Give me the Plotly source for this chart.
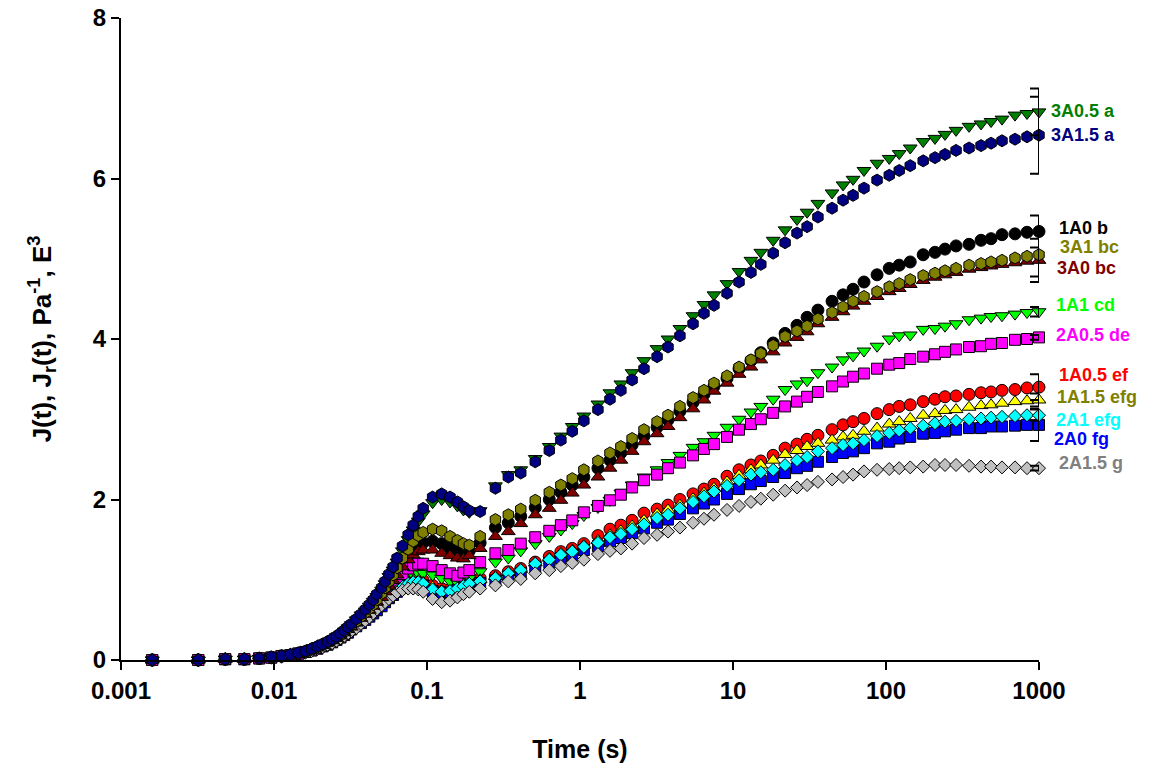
import plotly.graph_objects as go

# ---------------- data ----------------
time_s = [0.0016, 0.0032, 0.0048, 0.0064, 0.008, 0.0096, 0.0112, 0.0128, 0.0144, 0.016,
          0.0176, 0.0192, 0.0208, 0.0224, 0.024, 0.0256, 0.0272, 0.0288, 0.0304, 0.032,
          0.0345, 0.037, 0.0395, 0.042, 0.0445, 0.047,
          0.0505, 0.0532, 0.0564, 0.060, 0.0637, 0.0691, 0.0753, 0.0812, 0.0877, 0.0944,
          0.1088, 0.1247, 0.1414, 0.158, 0.173, 0.189, 0.2225,
          0.28, 0.34, 0.41, 0.51, 0.63, 0.75, 0.89, 1.06, 1.31, 1.57,
          1.85, 2.19, 2.62, 3.19, 3.76, 4.5, 5.48, 6.46, 7.51, 9.14,
          10.95, 13.1, 15.2, 18.3, 21.9, 26.2, 30.5, 35.9, 44.4, 52.4,
          60.9, 71.8, 87.4, 105, 122, 144, 175, 209, 243, 287,
          349, 418, 486, 573, 697, 835, 1000]

j_1A0 = [0, 0, 0.01, 0.01, 0.02, 0.03, 0.05, 0.06, 0.08, 0.10,
         0.13, 0.16, 0.18, 0.21, 0.24, 0.27, 0.31, 0.34, 0.38, 0.42,
         0.47, 0.53, 0.58, 0.63, 0.68, 0.73,
         0.80, 0.87, 0.94, 1.01, 1.09, 1.19, 1.29, 1.37, 1.43, 1.46,
         1.48, 1.45, 1.40, 1.36, 1.34, 1.36, 1.46,
         1.65, 1.71, 1.79, 1.90, 2.00, 2.09, 2.18, 2.28, 2.39, 2.49,
         2.58, 2.68, 2.79, 2.90, 2.99, 3.10, 3.21, 3.31, 3.41, 3.51,
         3.63, 3.73, 3.83, 3.95, 4.07, 4.17, 4.27, 4.36, 4.47, 4.55,
         4.62, 4.71, 4.80, 4.88, 4.92, 4.96, 5.05, 5.08, 5.12, 5.16,
         5.18, 5.23, 5.25, 5.30, 5.31, 5.33, 5.34]

j_1A05 = [0, 0, 0.01, 0.01, 0.02, 0.03, 0.05, 0.06, 0.08, 0.10,
          0.12, 0.15, 0.17, 0.20, 0.23, 0.26, 0.29, 0.32, 0.36, 0.39,
          0.44, 0.48, 0.53, 0.57, 0.61, 0.65,
          0.70, 0.75, 0.80, 0.85, 0.89, 0.95, 0.99, 1.01, 1.01, 0.99,
          0.93, 0.89, 0.88, 0.90, 0.93, 0.96, 1.02,
          1.05, 1.10, 1.14, 1.22, 1.29, 1.35, 1.39, 1.45, 1.55, 1.63,
          1.68, 1.74, 1.83, 1.88, 1.93, 2.00, 2.07, 2.13, 2.19, 2.29,
          2.37, 2.43, 2.48, 2.55, 2.64, 2.69, 2.75, 2.80, 2.87, 2.93,
          2.97, 3.01, 3.07, 3.12, 3.16, 3.18, 3.22, 3.25, 3.28, 3.29,
          3.31, 3.33, 3.34, 3.36, 3.37, 3.39, 3.40]

j_1A1 = [0, 0, 0.01, 0.01, 0.02, 0.03, 0.05, 0.06, 0.08, 0.10,
         0.12, 0.15, 0.17, 0.20, 0.23, 0.26, 0.29, 0.33, 0.36, 0.40,
         0.44, 0.49, 0.54, 0.58, 0.62, 0.66,
         0.72, 0.77, 0.82, 0.87, 0.92, 0.98, 1.03, 1.06, 1.08, 1.08,
         1.06, 1.02, 0.98, 0.96, 0.98, 1.02, 1.10,
         1.22, 1.27, 1.36, 1.45, 1.54, 1.62, 1.70, 1.80, 1.90, 1.99,
         2.08, 2.18, 2.28, 2.37, 2.46, 2.55, 2.65, 2.72, 2.80, 2.90,
         3.00, 3.09, 3.16, 3.25, 3.37, 3.44, 3.48, 3.58, 3.65, 3.74,
         3.79, 3.85, 3.91, 4.00, 4.04, 4.05, 4.12, 4.13, 4.16, 4.19,
         4.24, 4.26, 4.28, 4.29, 4.31, 4.33, 4.34]

j_1A15 = [0, 0, 0.01, 0.01, 0.02, 0.03, 0.05, 0.06, 0.08, 0.10,
          0.12, 0.14, 0.17, 0.20, 0.22, 0.25, 0.28, 0.32, 0.35, 0.39,
          0.43, 0.48, 0.52, 0.56, 0.60, 0.64,
          0.69, 0.74, 0.79, 0.83, 0.87, 0.93, 0.97, 0.99, 0.99, 0.97,
          0.91, 0.87, 0.86, 0.88, 0.91, 0.94, 1.00,
          1.04, 1.09, 1.13, 1.21, 1.27, 1.33, 1.37, 1.43, 1.49, 1.56,
          1.61, 1.67, 1.74, 1.82, 1.87, 1.93, 2.01, 2.08, 2.14, 2.22,
          2.30, 2.37, 2.43, 2.49, 2.56, 2.61, 2.66, 2.70, 2.74, 2.78,
          2.80, 2.85, 2.89, 2.94, 2.97, 3.01, 3.05, 3.07, 3.11, 3.12,
          3.15, 3.17, 3.18, 3.20, 3.22, 3.23, 3.24]

j_2A0 = [0, 0, 0.01, 0.01, 0.02, 0.03, 0.05, 0.06, 0.08, 0.10,
         0.12, 0.14, 0.17, 0.19, 0.22, 0.25, 0.28, 0.31, 0.34, 0.38,
         0.42, 0.46, 0.50, 0.54, 0.58, 0.62,
         0.67, 0.72, 0.77, 0.81, 0.85, 0.90, 0.93, 0.95, 0.95, 0.93,
         0.86, 0.83, 0.84, 0.87, 0.90, 0.93, 0.96,
         0.99, 1.04, 1.08, 1.16, 1.21, 1.27, 1.31, 1.37, 1.42, 1.48,
         1.52, 1.58, 1.64, 1.71, 1.75, 1.82, 1.89, 1.95, 2.00, 2.07,
         2.13, 2.19, 2.23, 2.28, 2.33, 2.39, 2.42, 2.47, 2.53, 2.58,
         2.60, 2.64, 2.70, 2.72, 2.76, 2.78, 2.82, 2.83, 2.85, 2.87,
         2.89, 2.89, 2.91, 2.91, 2.92, 2.93, 2.93]

j_2A05 = [0, 0, 0.01, 0.01, 0.02, 0.03, 0.05, 0.06, 0.08, 0.10,
          0.12, 0.15, 0.18, 0.20, 0.23, 0.27, 0.30, 0.33, 0.37, 0.40,
          0.45, 0.50, 0.55, 0.60, 0.64, 0.69,
          0.75, 0.81, 0.87, 0.93, 0.99, 1.07, 1.14, 1.18, 1.20, 1.20,
          1.17, 1.12, 1.08, 1.05, 1.09, 1.12, 1.22,
          1.33, 1.37, 1.45, 1.53, 1.61, 1.68, 1.74, 1.84, 1.92, 1.99,
          2.06, 2.15, 2.24, 2.31, 2.39, 2.46, 2.55, 2.63, 2.69, 2.78,
          2.87, 2.94, 3.00, 3.08, 3.16, 3.22, 3.28, 3.34, 3.41, 3.47,
          3.53, 3.57, 3.63, 3.68, 3.70, 3.75, 3.78, 3.81, 3.84, 3.87,
          3.90, 3.91, 3.94, 3.95, 3.99, 4.00, 4.02]

j_2A1 = [0, 0, 0.01, 0.01, 0.02, 0.03, 0.05, 0.06, 0.08, 0.10,
         0.12, 0.14, 0.17, 0.19, 0.22, 0.25, 0.28, 0.31, 0.35, 0.38,
         0.43, 0.47, 0.51, 0.55, 0.59, 0.63,
         0.68, 0.73, 0.78, 0.82, 0.86, 0.91, 0.95, 0.97, 0.97, 0.95,
         0.88, 0.85, 0.86, 0.89, 0.92, 0.95, 0.98,
         1.02, 1.08, 1.12, 1.20, 1.25, 1.31, 1.35, 1.41, 1.46, 1.53,
         1.57, 1.63, 1.69, 1.77, 1.81, 1.89, 1.97, 2.04, 2.10, 2.17,
         2.24, 2.31, 2.34, 2.37, 2.43, 2.49, 2.53, 2.60, 2.64, 2.68,
         2.70, 2.74, 2.79, 2.83, 2.86, 2.89, 2.92, 2.95, 2.97, 2.98,
         3.00, 3.01, 3.02, 3.03, 3.04, 3.05, 3.05]

j_2A15 = [0, 0, 0.01, 0.01, 0.02, 0.03, 0.04, 0.06, 0.08, 0.09,
          0.11, 0.14, 0.16, 0.19, 0.21, 0.24, 0.27, 0.30, 0.33, 0.36,
          0.40, 0.45, 0.49, 0.53, 0.58, 0.63,
          0.68, 0.72, 0.76, 0.80, 0.84, 0.87, 0.89, 0.89, 0.88, 0.85,
          0.76, 0.72, 0.74, 0.78, 0.82, 0.85, 0.89,
          0.93, 0.98, 1.01, 1.08, 1.12, 1.17, 1.21, 1.25, 1.32, 1.36,
          1.39, 1.45, 1.52, 1.56, 1.60, 1.65, 1.71, 1.76, 1.81, 1.87,
          1.92, 1.97, 2.01, 2.06, 2.11, 2.15, 2.18, 2.22, 2.25, 2.28,
          2.31, 2.35, 2.37, 2.38, 2.39, 2.40, 2.41, 2.43, 2.43, 2.43,
          2.42, 2.41, 2.41, 2.40, 2.40, 2.39, 2.39]

j_3A0 = [0, 0, 0.01, 0.01, 0.02, 0.03, 0.05, 0.06, 0.08, 0.10,
         0.12, 0.15, 0.18, 0.21, 0.24, 0.27, 0.30, 0.34, 0.38, 0.41,
         0.46, 0.52, 0.57, 0.62, 0.67, 0.72,
         0.78, 0.85, 0.92, 0.99, 1.06, 1.16, 1.25, 1.31, 1.35, 1.37,
         1.37, 1.33, 1.30, 1.27, 1.26, 1.30, 1.39,
         1.54, 1.60, 1.70, 1.81, 1.89, 1.99, 2.08, 2.18, 2.28, 2.39,
         2.49, 2.60, 2.72, 2.82, 2.91, 3.02, 3.13, 3.24, 3.35, 3.45,
         3.56, 3.65, 3.74, 3.84, 3.95, 4.02, 4.09, 4.19, 4.27, 4.34,
         4.41, 4.47, 4.53, 4.59, 4.63, 4.68, 4.73, 4.77, 4.80, 4.83,
         4.87, 4.89, 4.91, 4.93, 4.95, 4.97, 4.98]

j_3A05 = [0, 0, 0.01, 0.01, 0.02, 0.04, 0.05, 0.07, 0.09, 0.11,
          0.14, 0.17, 0.19, 0.22, 0.25, 0.29, 0.32, 0.36, 0.40, 0.44,
          0.50, 0.56, 0.61, 0.67, 0.73, 0.79,
          0.87, 0.95, 1.04, 1.12, 1.22, 1.36, 1.50, 1.62, 1.73, 1.82,
          1.96, 2.00, 1.97, 1.92, 1.87, 1.84, 1.86,
          2.17, 2.31, 2.37, 2.51, 2.66, 2.79, 2.91, 3.04, 3.19, 3.33,
          3.44, 3.58, 3.73, 3.88, 4.00, 4.13, 4.29, 4.43, 4.55, 4.69,
          4.84, 4.98, 5.08, 5.23, 5.36, 5.49, 5.58, 5.69, 5.82, 5.92,
          5.99, 6.10, 6.19, 6.25, 6.31, 6.38, 6.46, 6.50, 6.55, 6.60,
          6.65, 6.68, 6.71, 6.74, 6.79, 6.81, 6.83]

j_3A1 = [0, 0, 0.01, 0.01, 0.02, 0.03, 0.05, 0.06, 0.08, 0.10,
         0.13, 0.16, 0.19, 0.22, 0.25, 0.28, 0.31, 0.35, 0.39, 0.43,
         0.48, 0.54, 0.59, 0.64, 0.69, 0.75,
         0.83, 0.90, 0.98, 1.06, 1.15, 1.27, 1.38, 1.48, 1.55, 1.59,
         1.63, 1.61, 1.54, 1.49, 1.45, 1.43, 1.54,
         1.75, 1.81, 1.88, 1.99, 2.09, 2.18, 2.26, 2.37, 2.48, 2.58,
         2.66, 2.76, 2.87, 2.97, 3.05, 3.16, 3.27, 3.36, 3.45, 3.54,
         3.65, 3.74, 3.82, 3.92, 4.03, 4.10, 4.16, 4.25, 4.33, 4.40,
         4.47, 4.53, 4.59, 4.65, 4.69, 4.74, 4.79, 4.82, 4.85, 4.88,
         4.92, 4.94, 4.96, 4.98, 5.01, 5.03, 5.05]

j_3A15 = [0, 0, 0.01, 0.01, 0.02, 0.04, 0.05, 0.07, 0.09, 0.11,
          0.14, 0.17, 0.20, 0.23, 0.26, 0.29, 0.33, 0.37, 0.41, 0.45,
          0.51, 0.57, 0.63, 0.69, 0.75, 0.82,
          0.90, 0.98, 1.07, 1.16, 1.27, 1.42, 1.56, 1.68, 1.79, 1.89,
          2.03, 2.07, 2.03, 1.97, 1.91, 1.86, 1.85,
          2.14, 2.28, 2.33, 2.47, 2.61, 2.74, 2.85, 2.98, 3.12, 3.25,
          3.36, 3.49, 3.63, 3.78, 3.90, 4.04, 4.19, 4.32, 4.42, 4.57,
          4.71, 4.83, 4.93, 5.07, 5.20, 5.32, 5.40, 5.52, 5.63, 5.73,
          5.79, 5.88, 5.98, 6.04, 6.10, 6.16, 6.22, 6.26, 6.30, 6.35,
          6.38, 6.41, 6.44, 6.47, 6.49, 6.52, 6.54]

# series in drawing order
series_names = ["1A0", "1A0.5", "1A1", "1A1.5", "2A0", "2A0.5",
                "2A1", "2A1.5", "3A0", "3A0.5", "3A1", "3A1.5"]
series_values = [j_1A0, j_1A05, j_1A1, j_1A15, j_2A0, j_2A05,
                 j_2A1, j_2A15, j_3A0, j_3A05, j_3A1, j_3A15]
# significance letters shown in the end labels
series_letters = ["b", "ef", "cd", "efg", "fg", "de",
                  "efg", "g", "bc", "a", "bc", "a"]
# standard deviation at the last time point (error bar)
series_err_last = [0.20, 0.16, 0.06, 0.08, 0.20, 0.03,
                   0.07, 0.03, 0.27, 0.29, 0.27, 0.48]

x_tick_vals = [0.001, 0.01, 0.1, 1, 10, 100, 1000]
x_tick_text = ["0.001", "0.01", "0.1", "1", "10", "100", "1000"]
y_tick_vals = [0, 2, 4, 6, 8]

# ---------------- styles ----------------
marker_color = {"1A0": "#000000", "1A0.5": "#FF0000", "1A1": "#00FF00", "1A1.5": "#FFFF00",
                "2A0": "#0000FF", "2A0.5": "#FF00FF", "2A1": "#00FFFF", "2A1.5": "#C0C0C0",
                "3A0": "#800000", "3A0.5": "#008000", "3A1": "#808000", "3A1.5": "#000080"}
label_color = dict(marker_color)
label_color["1A1.5"] = "#808000"
label_color["2A1.5"] = "#808080"
marker_symbol = {"1A0": "circle", "1A0.5": "circle", "1A1": "triangle-down", "1A1.5": "triangle-up",
                 "2A0": "square", "2A0.5": "square", "2A1": "diamond", "2A1.5": "diamond",
                 "3A0": "triangle-up", "3A0.5": "triangle-down", "3A1": "hexagon", "3A1.5": "hexagon"}
marker_size = {"circle": 12, "triangle-down": 12, "triangle-up": 12, "square": 11,
               "diamond": 10, "hexagon": 12}
# label vertical centre (data units) and left pixel position (window coords)
label_y = {"3A0.5": 6.835, "3A1.5": 6.54, "1A0": 5.38, "3A1": 5.15, "3A0": 4.885,
           "1A1": 4.424, "2A0.5": 4.05, "1A0.5": 3.55, "1A1.5": 3.28, "2A1": 2.99,
           "2A0": 2.75, "2A1.5": 2.45}
label_left_px = {"3A0.5": 1052, "3A1.5": 1052, "1A0": 1060, "3A1": 1061, "3A0": 1058,
                 "1A1": 1057, "2A0.5": 1057, "1A0.5": 1060, "1A1.5": 1058, "2A1": 1057,
                 "2A0": 1055, "2A1.5": 1060}

FONT = "Liberation Sans, Arial, Helvetica, sans-serif"
PAGE_OFFSET = 8            # default body margin of the html page
W, H = 1158 - PAGE_OFFSET, 768 - PAGE_OFFSET
PLOT_L, PLOT_R, PLOT_T, PLOT_B = 121, 1039, 18, 660   # window pixel positions
ML = PLOT_L - PAGE_OFFSET
MT = PLOT_T - PAGE_OFFSET
MR = W - (PLOT_R - PAGE_OFFSET)
MB = H - (PLOT_B - PAGE_OFFSET)
plot_w = PLOT_R - PLOT_L

fig = go.Figure()

for name, vals in zip(series_names, series_values):
    sym = marker_symbol[name]
    fig.add_trace(go.Scatter(
        x=time_s, y=vals, mode="markers", name=name,
        cliponaxis=False, showlegend=False,
        marker=dict(symbol=sym, size=marker_size[sym], color=marker_color[name],
                    line=dict(color="black", width=1)),
    ))

for name, vals, err in zip(series_names, series_values, series_err_last):
    fig.add_trace(go.Scatter(
        x=[time_s[-1]], y=[vals[-1]], mode="markers",
        cliponaxis=False, showlegend=False, hoverinfo="skip",
        marker=dict(size=1, opacity=0),
        error_y=dict(type="data", array=[err], visible=True,
                     color="black", thickness=2, width=9),
    ))

for name, letters in zip(series_names, series_letters):
    fig.add_annotation(
        xref="paper", yref="y",
        x=(label_left_px[name] - 3 - PLOT_L) / plot_w, y=label_y[name],
        xanchor="left", yanchor="middle", showarrow=False,
        text=f"{name} {letters}",
        font=dict(family=FONT, size=18, color=label_color[name], weight="bold"),
    )

fig.update_layout(
    width=W, height=H,
    margin=dict(l=ML, r=MR, t=MT, b=MB, autoexpand=False),
    paper_bgcolor="white", plot_bgcolor="white",
    font=dict(family=FONT, color="black"),
    xaxis=dict(
        type="log", range=[-3, 3], automargin=False, ticklabeloverflow="allow",
        tickvals=x_tick_vals, ticktext=x_tick_text,
        ticks="outside", ticklen=8, tickwidth=2, tickcolor="black",
        showline=True, linecolor="black", linewidth=2,
        showgrid=False, zeroline=False,
        tickfont=dict(family=FONT, size=24, color="black", weight="bold"),
        title=dict(text="Time (s)", standoff=38,
                   font=dict(family=FONT, size=25, color="black", weight="bold")),
    ),
    yaxis=dict(
        range=[0, 8], tickvals=y_tick_vals, automargin=False, ticklabeloverflow="allow",
        ticks="outside", ticklen=8, tickwidth=2, tickcolor="black",
        showline=True, linecolor="black", linewidth=2,
        showgrid=False, zeroline=False,
        tickfont=dict(family=FONT, size=24, color="black", weight="bold"),
        title=dict(text="J(t), J<sub>r</sub>(t), Pa<sup>-1</sup>, E<sup>3</sup>", standoff=34,
                   font=dict(family=FONT, size=26, color="black", weight="bold")),
    ),
)

fig.write_html("out.html")
